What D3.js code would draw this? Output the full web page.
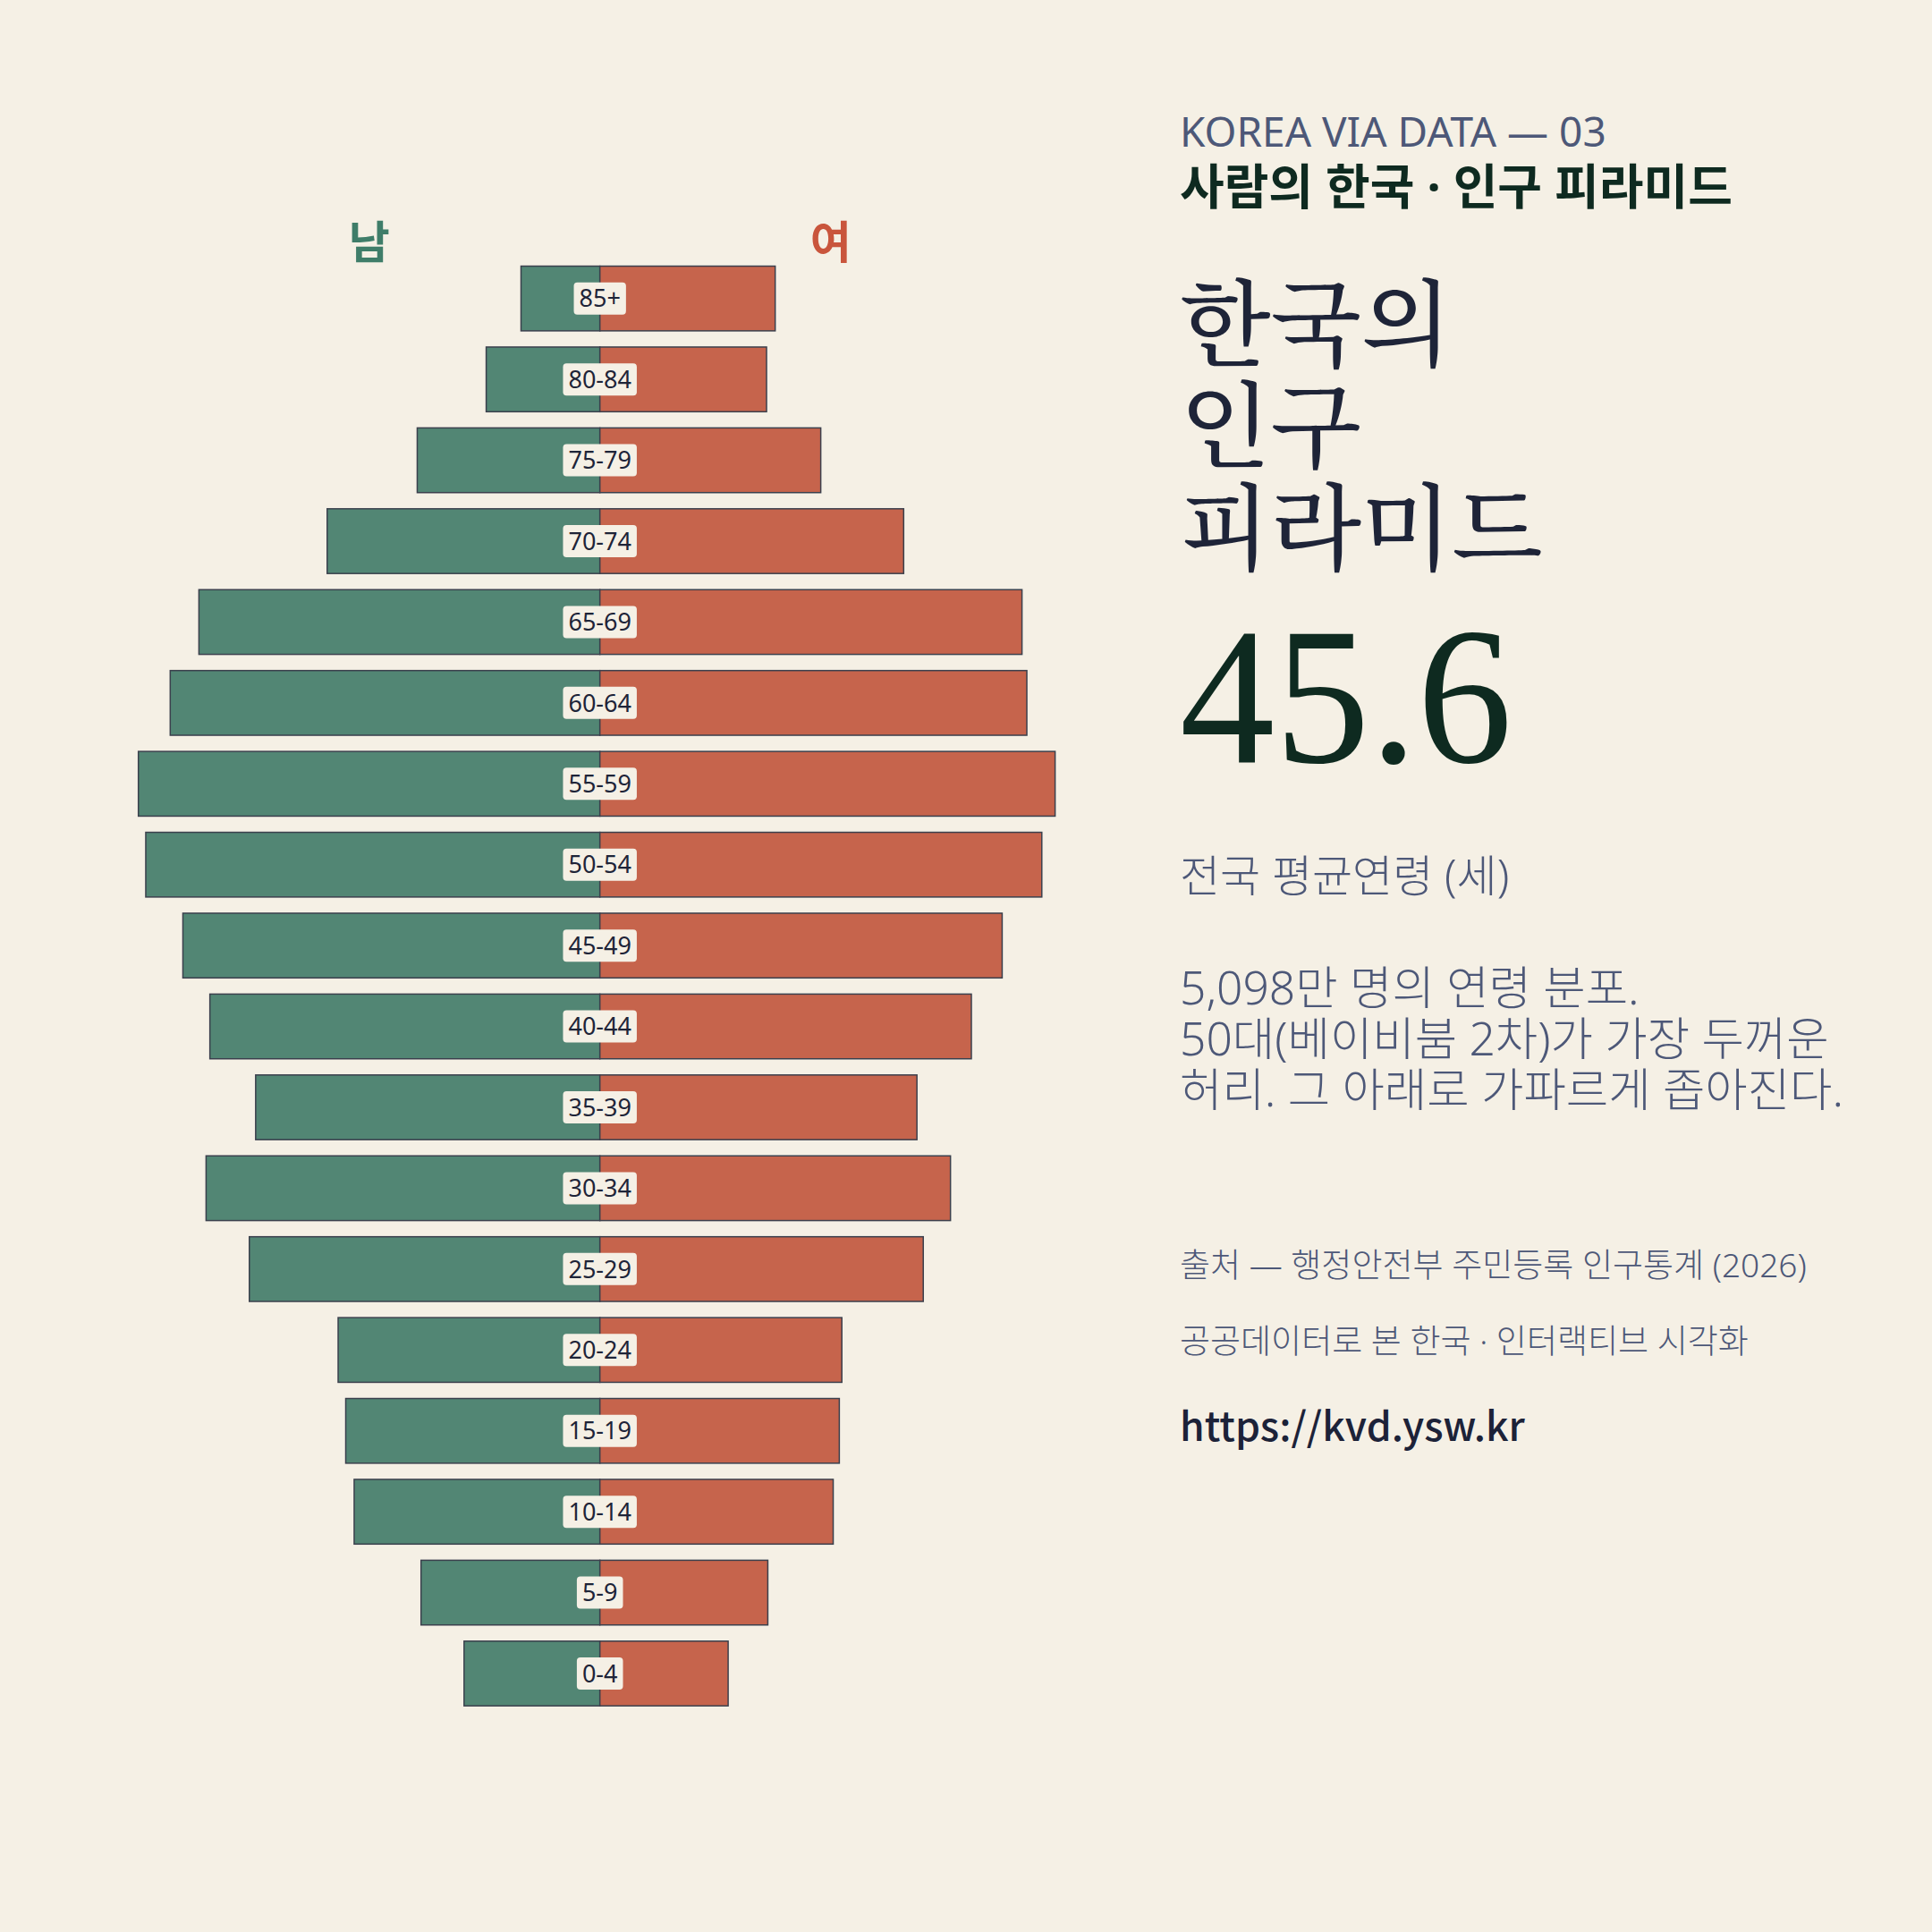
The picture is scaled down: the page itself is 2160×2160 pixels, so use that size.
<!DOCTYPE html>
<html>
<head>
<meta charset="utf-8">
<script src="https://cdn.jsdelivr.net/npm/d3@7"></script>
<style>
  html, body { margin: 0; padding: 0; background: #f5f0e5; }
  svg { display: block; }
</style>
</head>
<body>
<svg id="chart" width="2160" height="2160"></svg>
<script>
// Age groups (top to bottom), population in thousands
const ageGroups = ["85+","80-84","75-79","70-74","65-69","60-64","55-59","50-54","45-49","40-44","35-39","30-34","25-29","20-24","15-19","10-14","5-9","0-4"];
const male   = [374, 539, 866, 1293, 1901, 2037, 2188, 2153, 1977, 1849, 1632, 1867, 1662, 1241, 1205, 1165, 848, 644];
const female = [831, 790, 1047, 1440, 2001, 2024, 2158, 2095, 1907, 1761, 1503, 1662, 1533, 1147, 1135, 1106, 796, 608];
const sexLabels = ["남", "여"];
const kicker = "KOREA VIA DATA — 03";
const subtitle = "사람의 한국 · 인구 피라미드";
const titleLines = ["한국의", "인구", "피라미드"];
const bigNumber = "45.6";
const bigNumberLabel = "전국 평균연령 (세)";
const bodyLines = ["5,098만 명의 연령 분포.", "50대(베이비붐 2차)가 가장 두꺼운", "허리. 그 아래로 가파르게 좁아진다."];
const sourceLines = ["출처 — 행정안전부 주민등록 인구통계 (2026)", "공공데이터로 본 한국 · 인터랙티브 시각화"];
const url = "https://kvd.ysw.kr";

const BG = "#f5f0e5";
const C_M = "#528674";
const C_F = "#c6644c";
const STROKE = "#3b404d";
const SANS = "'Noto Sans', 'Noto Sans CJK KR', sans-serif";

const svg = d3.select("#chart");
svg.append("rect").attr("width", 2160).attr("height", 2160).attr("fill", BG);

const cx = 670.7;
const halfW = 516;
const y = d3.scaleBand().domain(ageGroups).range([288.5, 1916.2]).paddingInner(0.2).paddingOuter(0.1);
const x = d3.scaleLinear().domain([0, d3.max(male.concat(female))]).range([0, halfW]);

const data = ageGroups.map((g, i) => ({ g, m: male[i], f: female[i] }));

const chart = svg.append("g");
chart.selectAll("rect.m").data(data).join("rect").attr("class", "m")
  .attr("x", d => cx - x(d.m)).attr("y", d => y(d.g))
  .attr("width", d => x(d.m)).attr("height", y.bandwidth())
  .attr("fill", C_M).attr("stroke", STROKE).attr("stroke-width", 1.5);
chart.selectAll("rect.f").data(data).join("rect").attr("class", "f")
  .attr("x", cx).attr("y", d => y(d.g))
  .attr("width", d => x(d.f)).attr("height", y.bandwidth())
  .attr("fill", C_F).attr("stroke", STROKE).attr("stroke-width", 1.5);

// age labels with rounded backgrounds
const lab = chart.selectAll("g.lab").data(data).join("g").attr("class", "lab")
  .attr("transform", d => `translate(${cx},${y(d.g) + y.bandwidth() / 2})`);
lab.append("text").text(d => d.g)
  .attr("text-anchor", "middle").attr("dy", "0.36em")
  .attr("font-family", SANS)
  .attr("font-size", 27).attr("fill", "#1e2438");
lab.each(function() {
  const g = d3.select(this);
  const bb = g.select("text").node().getBBox();
  g.insert("rect", "text")
    .attr("x", -bb.width / 2 - 6).attr("y", -18)
    .attr("width", bb.width + 12).attr("height", 36)
    .attr("rx", 4).attr("fill", BG);
});

// sex labels
svg.append("text").text(sexLabels[0]).attr("x", cx - halfW / 2).attr("y", 289)
  .attr("text-anchor", "middle").attr("font-family", SANS)
  .attr("font-weight", 700).attr("font-size", 50).attr("fill", "#3f7d69");
svg.append("text").text(sexLabels[1]).attr("x", cx + halfW / 2).attr("y", 289)
  .attr("text-anchor", "middle").attr("font-family", SANS)
  .attr("font-weight", 700).attr("font-size", 50).attr("fill", "#c9553c");

// right text panel
const tx = 1319;
svg.append("text").text(kicker).attr("x", tx).attr("y", 164)
  .attr("font-family", SANS)
  .attr("font-size", 46).attr("fill", "#4d5878");
svg.append("text").text(subtitle).attr("x", tx).attr("y", 229)
  .attr("font-family", SANS).attr("font-weight", 700)
  .attr("font-size", 54).attr("fill", "#0e2a20");
titleLines.forEach((t, i) => {
  svg.append("text").text(t).attr("x", tx).attr("y", 400 + i * 114)
    .attr("font-family", "'Noto Serif CJK KR', 'Nanum Myeongjo', serif")
    .attr("font-weight", 500)
    .attr("font-size", 105).attr("fill", "#1e2438");
});
svg.append("text").text(bigNumber)
  .attr("transform", `translate(${tx},852) scale(0.97,1)`)
  .attr("font-family", "'Liberation Serif', 'DejaVu Serif', serif")
  .attr("font-size", 219).attr("fill", "#0e2a20");
svg.append("text").text(bigNumberLabel).attr("x", tx).attr("y", 997)
  .attr("font-family", SANS).attr("font-weight", 300)
  .attr("font-size", 49).attr("fill", "#4d5878");
bodyLines.forEach((t, i) => {
  svg.append("text").text(t).attr("x", tx).attr("y", 1123 + i * 57)
    .attr("font-family", SANS).attr("font-weight", 300)
    .attr("font-size", 51.5).attr("fill", "#4d5878");
});
sourceLines.forEach((t, i) => {
  svg.append("text").text(t).attr("x", tx).attr("y", 1428 + i * 85)
    .attr("font-family", SANS).attr("font-weight", 300)
    .attr("font-size", 37).attr("fill", "#4d5878");
});
svg.append("text").text(url).attr("x", tx).attr("y", 1611)
  .attr("font-family", "'Noto Sans CJK KR', sans-serif").attr("font-weight", 500)
  .attr("font-size", 44.5).attr("fill", "#1c2238");
</script>
</body>
</html>
